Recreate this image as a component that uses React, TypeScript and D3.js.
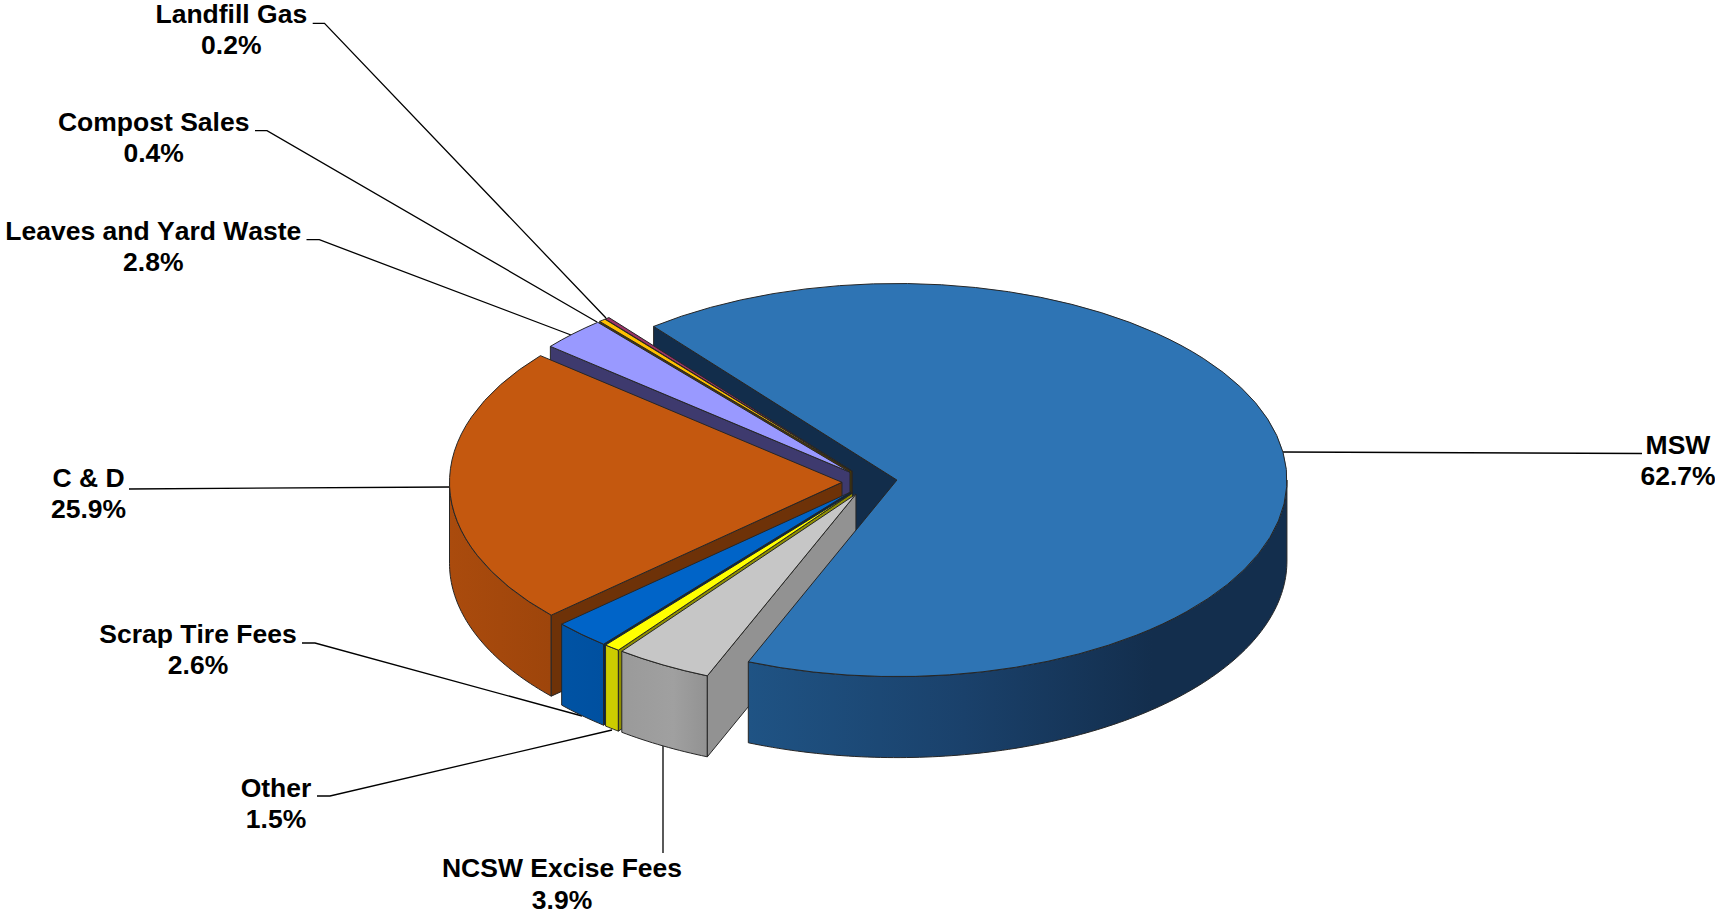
import React from "react";
import * as d3 from "d3";

const categories = ["MSW", "NCSW Excise Fees", "Other", "Scrap Tire Fees", "C & D", "Leaves and Yard Waste", "Compost Sales", "Landfill Gas"];
const shares = [62.7, 3.9, 1.5, 2.6, 25.9, 2.8, 0.4, 0.2];

const topColors = ["#2e74b4", "#c6c6c6", "#ffff00", "#0064c8", "#c4580f", "#9999ff", "#ffc000", "#993366"];
const cutColors = ["#122d4b", "#929292", "#8f8f00", "#00264f", "#6e3208", "#3e3a6e", "#4d3a00", "#4d1a33"];
const rimStops = [
  [[0, "#1f5384"], [0.4, "#1a416b"], [0.75, "#132e4d"], [1, "#132e4d"]],
  [[0, "#9a9a9a"], [0.6, "#a0a0a0"], [1, "#929292"]],
  [[0, "#cccc00"], [1, "#cccc00"]],
  [[0, "#0053a4"], [1, "#0050a0"]],
  [[0, "#aa4b0d"], [1, "#9e450b"]],
  [[0, "#6f6fb0"], [1, "#6f6fb0"]],
  [[0, "#b38600"], [1, "#b38600"]],
  [[0, "#6e2449"], [1, "#6e2449"]],
] as [number, string][][];

// Where the tilted view places each share boundary on the ellipse, in degrees clockwise from 12 o'clock.
const viewBoundaries = [-38.6, 202.4, 216.9, 219.3, 227.8, 309.8, 319.7, 320.7, 321.4];
// The left-hand wedge sits nearer the camera and reads slightly wider.
const radiusGrowth = [0, 0, 0, 0, 2.5, 0, 0, 0];

const labelLines = [
  { cx: 1678, y: 454, leader: [[1642, 453.5], [1283, 452]] },
  { cx: 562, y: 877.3, leader: [[663, 853], [663, 745]] },
  { cx: 276, y: 797, leader: [[317, 796], [330, 796], [612, 730]] },
  { cx: 198, y: 643, leader: [[302, 643], [315, 643], [582, 716]] },
  { cx: 88.6, y: 487, leader: [[129, 489], [450, 487]] },
  { cx: 153.3, y: 239.6, leader: [[306.5, 239.7], [319.3, 239.7], [571, 335]] },
  { cx: 153.7, y: 130.6, leader: [[255, 130.7], [267, 130.7], [597, 322]] },
  { cx: 231.3, y: 22.7, leader: [[312.7, 23.3], [324.5, 23.3], [606, 318]] },
];

const WIDTH = 1715;
const HEIGHT = 913;
const RX = 390;
const SQUASH = 0.504;
const DEPTH = 81;
const PIE_CENTER = [869.6, 482];
const EXPLODE = 27.6;
const LINE_GAP = 31.2;
const FONT = "'Liberation Sans', Arial, sans-serif";

const total = d3.sum(shares);
const shareToView = d3
  .scaleLinear()
  .domain([0, ...d3.cumsum(shares)].map((v) => (v / total) * 2 * Math.PI))
  .range(viewBoundaries.map((d) => (d * Math.PI) / 180));

const arcs = d3
  .pie<number>()
  .sort(null)
  .startAngle(0)
  .endAngle(2 * Math.PI)(shares);

const sectors = arcs.map((a, i) => {
  const start = shareToView(a.startAngle);
  const end = shareToView(Math.min(a.endAngle, 2 * Math.PI));
  const mid = (start + end) / 2;
  return {
    i,
    start,
    end,
    r: RX + radiusGrowth[i],
    ax: PIE_CENTER[0] + EXPLODE * Math.sin(mid),
    ay: PIE_CENTER[1] - EXPLODE * SQUASH * Math.cos(mid),
  };
});

type Sector = (typeof sectors)[number];

const rimPoint = (s: Sector, t: number, drop = 0): [number, number] => [
  s.ax + s.r * Math.sin(t),
  s.ay - s.r * SQUASH * Math.cos(t) + drop,
];

const polyline = d3.line();
const topArc = d3.arc<{ startAngle: number; endAngle: number; outerRadius: number }>().innerRadius(0);

// The outer wall only shows along the front half of the ellipse.
function rimPath(s: Sector) {
  const a = Math.max(s.start, Math.PI / 2);
  const b = Math.min(s.end, (3 * Math.PI) / 2);
  if (b <= a) return null;
  const n = Math.max(8, Math.ceil((b - a) * 60));
  const ts = d3.range(n + 1).map((k) => a + ((b - a) * k) / n);
  return polyline([...ts.map((t) => rimPoint(s, t)), ...ts.reverse().map((t) => rimPoint(s, t, DEPTH))]) + "Z";
}

function cutPath(s: Sector) {
  return (
    polyline([
      rimPoint(s, s.start),
      [s.ax, s.ay],
      [s.ax, s.ay + DEPTH],
      rimPoint(s, s.start, DEPTH),
    ]) + "Z"
  );
}

const edge = { stroke: "#262626", strokeWidth: 1, strokeLinejoin: "round" as const };

function Cut({ s }: { s: Sector }) {
  return <path d={cutPath(s)} fill={cutColors[s.i]} {...edge} />;
}

function Rim({ s }: { s: Sector }) {
  const d = rimPath(s);
  return d ? <path d={d} fill={`url(#rim-${s.i})`} {...edge} /> : null;
}

function Top({ s }: { s: Sector }) {
  return (
    <path
      d={topArc({ startAngle: s.start, endAngle: s.end, outerRadius: s.r }) as string}
      transform={`translate(${s.ax},${s.ay}) scale(1,${SQUASH})`}
      vectorEffect="non-scaling-stroke"
      fill={topColors[s.i]}
      {...edge}
    />
  );
}

export default function App() {
  const [msw, ...others] = sectors;
  const backToFront = [...others].reverse();
  return (
    <svg
      width={WIDTH}
      height={HEIGHT}
      viewBox={`0 0 ${WIDTH} ${HEIGHT}`}
      style={{ position: "absolute", left: 0, top: 0, display: "block", background: "#fff" }}
    >
      <defs>
        {sectors.map((s) => {
          const a = Math.max(s.start, Math.PI / 2);
          const b = Math.min(s.end, (3 * Math.PI) / 2);
          const xs = [rimPoint(s, a)[0], rimPoint(s, b)[0]];
          return (
            <linearGradient
              key={s.i}
              id={`rim-${s.i}`}
              gradientUnits="userSpaceOnUse"
              x1={Math.min(...xs)}
              x2={Math.max(...xs)}
              y1={0}
              y2={0}
            >
              {rimStops[s.i].map(([o, c]) => (
                <stop key={o} offset={o} stopColor={c} />
              ))}
            </linearGradient>
          );
        })}
      </defs>

      {labelLines.map((l, i) => (
        <path key={i} d={polyline(l.leader as [number, number][]) as string} fill="none" stroke="#000" strokeWidth={1.3} />
      ))}

      <Cut s={msw} />
      {backToFront.map((s) => (
        <g key={s.i}>
          <Rim s={s} />
          <Cut s={s} />
          <Top s={s} />
        </g>
      ))}
      <Rim s={msw} />
      <Top s={msw} />

      {labelLines.map((l, i) => (
        <text
          key={i}
          textAnchor="middle"
          fontFamily={FONT}
          fontWeight="bold"
          fontSize={26.5}
          fill="#000"
          style={{ fontKerning: "none" }}
        >
          <tspan x={l.cx} y={l.y}>{categories[i]}</tspan>
          <tspan x={l.cx} y={l.y + LINE_GAP}>{d3.format(".1f")(shares[i])}%</tspan>
        </text>
      ))}
    </svg>
  );
}
